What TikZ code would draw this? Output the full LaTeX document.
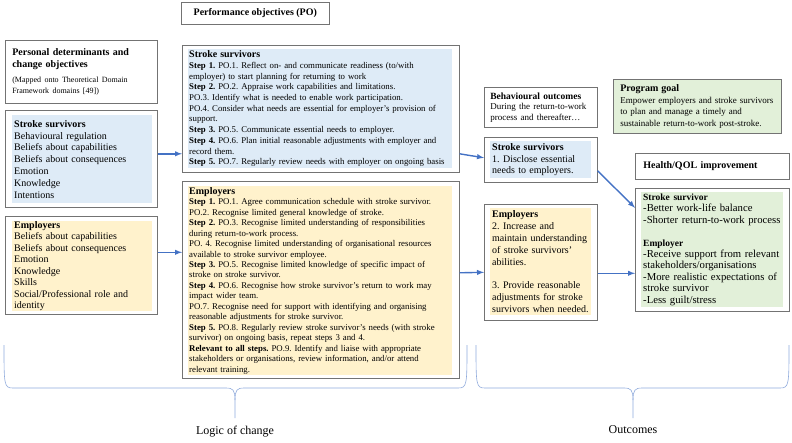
\documentclass[tikz,border=0pt]{standalone}
\usepackage{fontspec}
\setmainfont{Liberation Serif}
\usetikzlibrary{positioning}
\definecolor{ssblue}{HTML}{DEEBF7}
\definecolor{empyellow}{HTML}{FFF2CC}
\definecolor{goalgreen}{HTML}{E2F0D9}
\definecolor{boxgray}{gray}{0.45}
\definecolor{linkblue}{HTML}{4472C4}
\definecolor{bracecol}{HTML}{8FAADC}
\frenchspacing

\begin{document}
\begin{tikzpicture}[x=1pt, y=-1pt, >=latex,
  frame/.style={draw=boxgray, line width=0.6pt, anchor=north west, inner sep=0pt},
  panel/.style={anchor=north west, inner xsep=2pt, inner ysep=0pt, align=left},
  link/.style={->, draw=linkblue, line width=1.4pt}]
\useasboundingbox (0,0) rectangle (792,442);

%Headers
\node (pohead) [frame, minimum width=148pt, minimum height=22pt, font=\fontsize{10}{12}\selectfont\bfseries] at (181,2) {Performance objectives (PO)};

\node (pdet) [frame, minimum width=152pt, minimum height=63pt, text width=138pt, inner xsep=7pt, align=left] at (5,40) {{\fontsize{10}{11.8}\selectfont\bfseries Personal determinants and\\ change objectives\par}\vspace{5pt}{\fontsize{8}{10.5}\selectfont (Mapped onto Theoretical Domain\\ Framework domains [49])\par}};

\node (bhead) [frame, minimum width=113pt, minimum height=40pt, text width=101pt, inner xsep=6pt, align=left] at (484,87) {{\fontsize{9.5}{11}\selectfont\bfseries Behavioural outcomes\par}{\fontsize{9}{10.5}\selectfont During the return-to-work\\ process and thereafter…\par}};

\node (hhead) [frame, minimum width=154pt, minimum height=26pt, text width=138pt, inner xsep=8pt, align=left, font=\fontsize{10}{12}\selectfont\bfseries] at (635,153) {Health/QOL improvement};

\node (goal) [frame, fill=goalgreen, minimum width=168pt, minimum height=54pt, text width=154pt, inner xsep=7pt, align=left, font=\fontsize{9}{11.5}\selectfont] at (613,79) {{\fontsize{10}{10}\selectfont\bfseries Program goal}\\ Empower employers and stroke survivors\\ to plan and manage a timely and\\ sustainable return-to-work post-stroke.};

%Personal determinants
\node (lss) [frame, minimum width=152pt, minimum height=97pt] at (5,110) {};
\node (lssp) [panel, fill=ssblue, text width=136pt, minimum height=88pt, font=\fontsize{10}{11.8}\selectfont] at (12,115) {\textbf{Stroke survivors}\\ Behavioural regulation\\ Beliefs about capabilities\\ Beliefs about consequences\\ Emotion\\ Knowledge\\ Intentions};

\node (lemp) [frame, minimum width=152pt, minimum height=98pt] at (5,216) {};
\node (lempp) [panel, fill=empyellow, text width=136pt, minimum height=90pt, font=\fontsize{10}{11.5}\selectfont] at (12,221) {\textbf{Employers}\\ Beliefs about capabilities\\ Beliefs about consequences\\ Emotion\\ Knowledge\\ Skills\\ Social/Professional role and\\ identity};

%Performance objectives
\node (poss) [frame, minimum width=277pt, minimum height=127pt] at (182,45) {};
\node (possp) [panel, fill=ssblue, inner xsep=1pt, text width=262pt, minimum height=119pt, font=\fontsize{8.8}{10.7}\selectfont] at (188,49) {{\fontsize{10}{10}\selectfont\bfseries Stroke survivors}\\
\textbf{Step 1.} PO.1. Reflect on- and communicate readiness (to/with\\
employer) to start planning for returning to work\\
\textbf{Step 2.} PO.2. Appraise work capabilities and limitations.\\
PO.3. Identify what is needed to enable work participation.\\
PO.4. Consider what needs are essential for employer’s provision of\\
support.\\
\textbf{Step 3.} PO.5. Communicate essential needs to employer.\\
\textbf{Step 4.} PO.6. Plan initial reasonable adjustments with employer and\\
record them.\\
\textbf{Step 5.} PO.7. Regularly review needs with employer on ongoing basis};

\node (poemp) [frame, minimum width=277pt, minimum height=197pt] at (182,181) {};
\node (poempp) [panel, fill=empyellow, inner xsep=1pt, text width=262pt, minimum height=189pt, font=\fontsize{8.8}{10.45}\selectfont] at (188,186) {{\fontsize{10}{10}\selectfont\bfseries Employers}\\
\textbf{Step 1.} PO.1. Agree communication schedule with stroke survivor.\\
PO.2. Recognise limited general knowledge of stroke.\\
\textbf{Step 2.} PO.3. Recognise limited understanding of responsibilities\\
during return-to-work process.\\
PO. 4. Recognise limited understanding of organisational resources\\
available to stroke survivor employee.\\
\textbf{Step 3.} PO.5. Recognise limited knowledge of specific impact of\\
stroke on stroke survivor.\\
\textbf{Step 4.} PO.6. Recognise how stroke survivor’s return to work may\\
impact wider team.\\
PO.7. Recognise need for support with identifying and organising\\
reasonable adjustments for stroke survivor.\\
\textbf{Step 5.} PO.8. Regularly review stroke survivor’s needs (with stroke\\
survivor) on ongoing basis, repeat steps 3 and 4.\\
\textbf{Relevant to all steps.} PO.9. Identify and liaise with appropriate\\
stakeholders or organisations, review information, and/or attend\\
relevant training.};

%Behavioural outcomes
\node (oss) [frame, minimum width=113pt, minimum height=45pt] at (484,137) {};
\node (ossp) [panel, fill=ssblue, text width=97pt, minimum height=37pt, font=\fontsize{10}{11.8}\selectfont] at (490,141) {\textbf{Stroke survivors}\\ 1. Disclose essential\\ needs to employers.};

\node (oemp) [frame, minimum width=113pt, minimum height=116pt] at (484,204) {};
\node (oempp) [panel, fill=empyellow, text width=97pt, minimum height=107pt, font=\fontsize{10}{11.8}\selectfont] at (490,208) {\textbf{Employers}\\ 2. Increase and\\ maintain understanding\\ of stroke survivors’\\ abilities.\\[11.8pt] 3. Provide reasonable\\ adjustments for stroke\\ survivors when needed.};

%Health/QOL
\node (hqol) [frame, minimum width=154pt, minimum height=123pt] at (635,188) {};
\node (hqolp) [panel, fill=goalgreen, text width=138pt, minimum height=115pt, font=\fontsize{10.7}{11.4}\selectfont] at (641,192) {{\fontsize{9.5}{9.5}\selectfont\bfseries Stroke survivor}\\ -Better work-life balance\\ -Shorter return-to-work process\\[11.4pt] {\fontsize{9.5}{9.5}\selectfont\bfseries Employer}\\ -Receive support from relevant\\ stakeholders/organisations\\ -More realistic expectations of\\ stroke survivor\\ -Less guilt/stress};

%Links
\draw[link] ([yshift=5pt]lss.east) -- ([yshift=5pt]lss.east -| poss.west);
\draw[link] ([yshift=13pt]lemp.east) -- ([yshift=13pt]lemp.east -| poemp.west);
\draw[link] ([yshift=-45pt]poss.east) -- ([yshift=2pt]oss.west);
\draw[link] ([yshift=7pt]poemp.east) -- ([yshift=-10pt]oemp.west);
\draw[link] ([yshift=-11pt]oss.east) -- ([yshift=42pt]hqol.west);
\draw[link] ([yshift=-11pt]oemp.east) -- ([yshift=-11pt]oemp.east -| hqol.west);

%Braces
\draw[bracecol, line width=0.6pt] (4,345) .. controls (4,385) and (4,388) .. (13,388) -- (226,388) .. controls (233,388) and (235,390) .. (235,400) -- (235,418);
\draw[bracecol, line width=0.6pt] (467,345) .. controls (467,385) and (467,388) .. (458,388) -- (244,388) .. controls (237,388) and (235,390) .. (235,400);
\draw[bracecol, line width=0.6pt] (476,345) .. controls (476,385) and (476,388) .. (485,388) -- (624,388) .. controls (631,388) and (633,390) .. (633,400) -- (633,418);
\draw[bracecol, line width=0.6pt] (789,345) .. controls (789,385) and (789,388) .. (780,388) -- (642,388) .. controls (635,388) and (633,390) .. (633,400);

\node (logic) [font=\fontsize{12}{14}\selectfont] at (235,432) {Logic of change};
\node (outc) [font=\fontsize{12}{14}\selectfont] at (633,430) {Outcomes};
\end{tikzpicture}
\end{document}
